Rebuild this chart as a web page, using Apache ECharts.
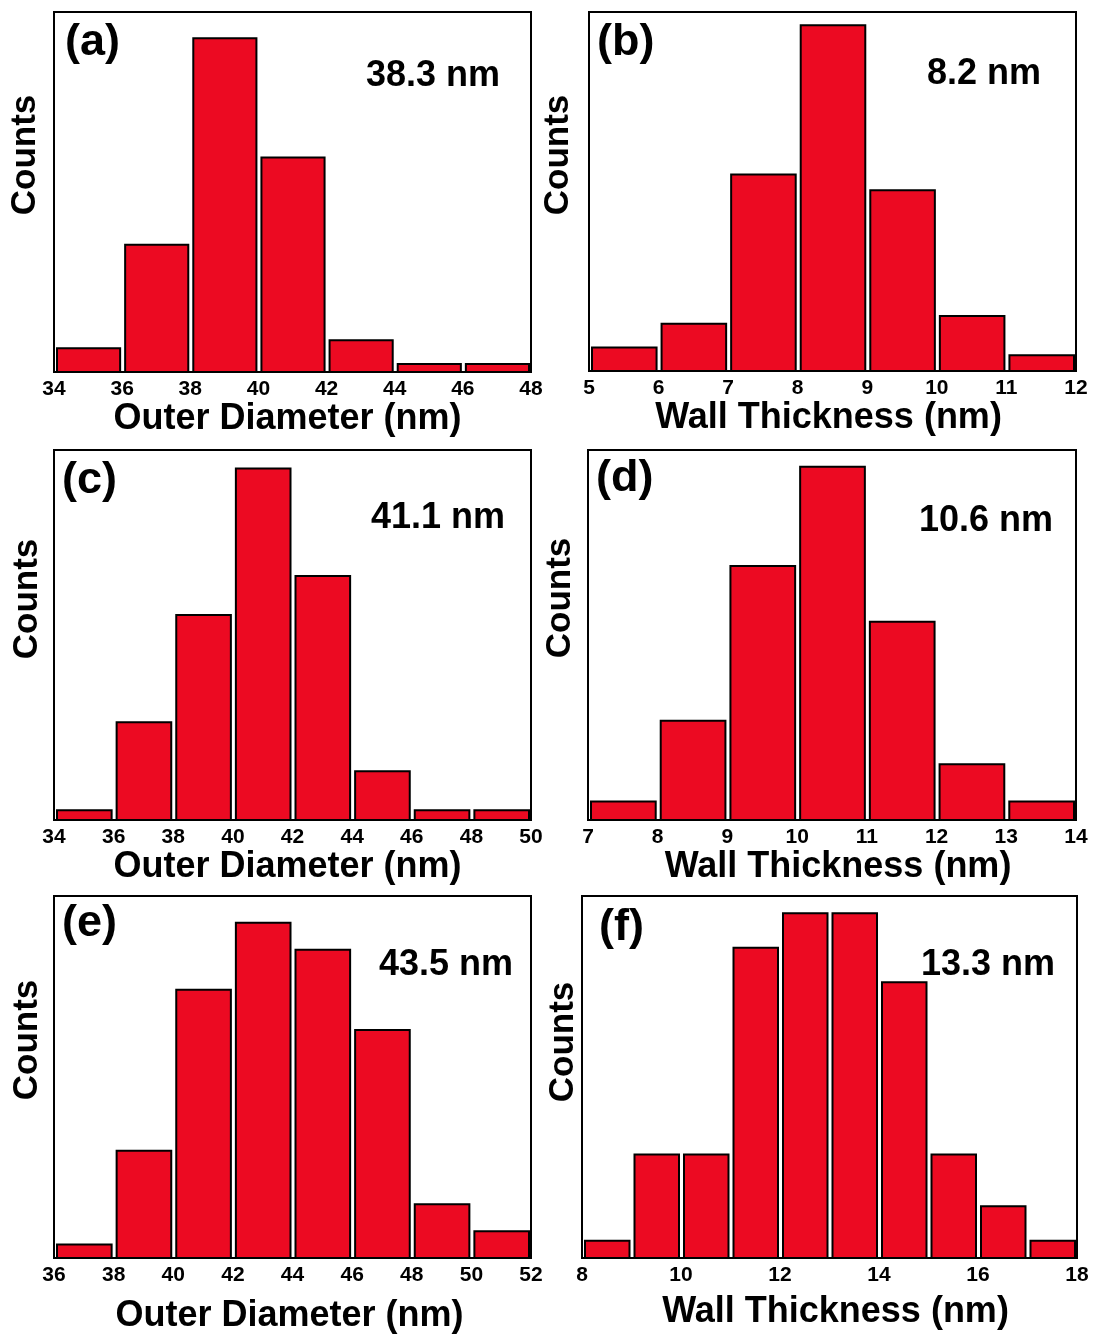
<!DOCTYPE html>
<html>
<head>
<meta charset="utf-8">
<script src="https://cdn.jsdelivr.net/npm/echarts@6/dist/echarts.min.js"></script>
<style>
html,body{margin:0;padding:0;background:#fff;}
#chart{width:1094px;height:1335px;}
</style>
</head>
<body>
<div id="chart"></div>
<script>
// ---- data ----
const binsA = [34, 36, 38, 40, 42, 44, 46];
const countsA = [3, 16, 42, 27, 4, 1, 1];
const binsB = [5, 6, 7, 8, 9, 10, 11];
const countsB = [3, 6, 25, 44, 23, 7, 2];
const binsC = [34, 36, 38, 40, 42, 44, 46, 48];
const countsC = [1, 10, 21, 36, 25, 5, 1, 1];
const binsD = [7, 8, 9, 10, 11, 12, 13];
const countsD = [3, 16, 41, 57, 32, 9, 3];
const binsE = [36, 38, 40, 42, 44, 46, 48, 50];
const countsE = [1, 8, 20, 25, 23, 17, 4, 2];
const binsF = [8, 9, 10, 11, 12, 13, 14, 15, 16, 17];
const countsF = [1, 6, 6, 18, 20, 20, 16, 6, 3, 1];
const binWidths = [2, 1, 2, 1, 2, 1];
const panelLabels = ['(a)', '(b)', '(c)', '(d)', '(e)', '(f)'];
const meanLabels = ['38.3 nm', '8.2 nm', '41.1 nm', '10.6 nm', '43.5 nm', '13.3 nm'];
const xTitles = ['Outer Diameter (nm)', 'Wall Thickness (nm)', 'Outer Diameter (nm)',
                 'Wall Thickness (nm)', 'Outer Diameter (nm)', 'Wall Thickness (nm)'];
const yTitle = 'Counts';
const xMin = [34, 5, 34, 7, 36, 8];
const xMax = [48, 12, 50, 14, 52, 18];
const xStep = [2, 1, 2, 1, 2, 2];
const yMax = [45.3, 45.7, 37.9, 59.7, 27, 21.0];

// ---- layout ----
const grids = [
  {left: 54, top: 12, width: 477, height: 360},
  {left: 589, top: 12, width: 487, height: 359},
  {left: 54, top: 450, width: 477, height: 370},
  {left: 588, top: 450, width: 488, height: 370},
  {left: 54, top: 896, width: 477, height: 363},
  {left: 582, top: 896, width: 495, height: 362}
];
const nameGaps = [25, 27, 28, 28, 40, 36];
const namePad = [[0, 10, 0, 0], [0, 8, 0, 0], [0, 10, 0, 0], [0, 0, 0, 12], [0, 6, 0, 0], [0, 0, 0, 12]];
const labelPos = [[65, 20], [597, 20], [62, 458], [596, 456], [62, 901], [599, 905]];
const meanPos = [[366, 58], [927, 56], [371, 500], [919, 503], [379, 947], [921, 947]];
const countsPos = [[25, 155], [558, 155], [27, 599], [560, 598], [27, 1040], [563, 1042]];

const FONT = 'Liberation Sans, Arial, sans-serif';
const RED = '#EC0A22';

const allBins = [binsA, binsB, binsC, binsD, binsE, binsF];
const allCounts = [countsA, countsB, countsC, countsD, countsE, countsF];

const chart = echarts.init(document.getElementById('chart'), null, {renderer: 'canvas'});

const option = {
  animation: false,
  backgroundColor: '#fff',
  grid: grids.map(g => Object.assign({show: true, borderColor: '#000', borderWidth: 2, backgroundColor: 'transparent'}, g)),
  xAxis: grids.map((g, i) => ({
    type: 'value', gridIndex: i, min: xMin[i], max: xMax[i], interval: xStep[i],
    name: xTitles[i], nameLocation: 'middle', nameGap: nameGaps[i],
    nameTextStyle: {fontFamily: FONT, fontWeight: 'bold', fontSize: 36, color: '#000', padding: namePad[i]},
    axisLine: {show: true, lineStyle: {color: '#000', width: 2}},
    axisTick: {show: false},
    splitLine: {show: false},
    axisLabel: {fontFamily: FONT, fontWeight: 'bold', fontSize: 21, color: '#000', margin: 7}
  })),
  yAxis: grids.map((g, i) => ({
    type: 'value', gridIndex: i, min: 0, max: yMax[i],
    axisLine: {show: true, lineStyle: {color: '#000', width: 2}},
    axisTick: {show: false}, axisLabel: {show: false}, splitLine: {show: false}
  })),
  title: [].concat(
    panelLabels.map((t, i) => ({text: t, left: labelPos[i][0], top: labelPos[i][1], padding: 0,
      textStyle: {fontFamily: FONT, fontWeight: 'bold', fontSize: 45, color: '#000'}})),
    meanLabels.map((t, i) => ({text: t, left: meanPos[i][0], top: meanPos[i][1], padding: 0,
      textStyle: {fontFamily: FONT, fontWeight: 'bold', fontSize: 36, color: '#000'}}))
  ),
  graphic: countsPos.map(p => ({
    type: 'text', x: p[0], y: p[1], rotation: Math.PI / 2,
    style: {text: yTitle, font: 'bold 35px ' + FONT, fill: '#000', textAlign: 'center', textVerticalAlign: 'middle'}
  })),
  series: allBins.map((bins, i) => ({
    type: 'custom', xAxisIndex: i, yAxisIndex: i,
    encode: {x: [0, 1], y: 2},
    data: bins.map((b, k) => [b, b + binWidths[i], allCounts[i][k]]),
    renderItem: function (params, api) {
      const p0 = api.coord([api.value(0), api.value(2)]);
      const p1 = api.coord([api.value(1), 0]);
      return {
        type: 'rect',
        shape: {x: p0[0] + 3, y: p0[1], width: p1[0] - p0[0] - 5, height: p1[1] - p0[1]},
        style: {fill: RED, stroke: '#000', lineWidth: 2}
      };
    }
  }))
};
chart.setOption(option);
</script>
</body>
</html>
